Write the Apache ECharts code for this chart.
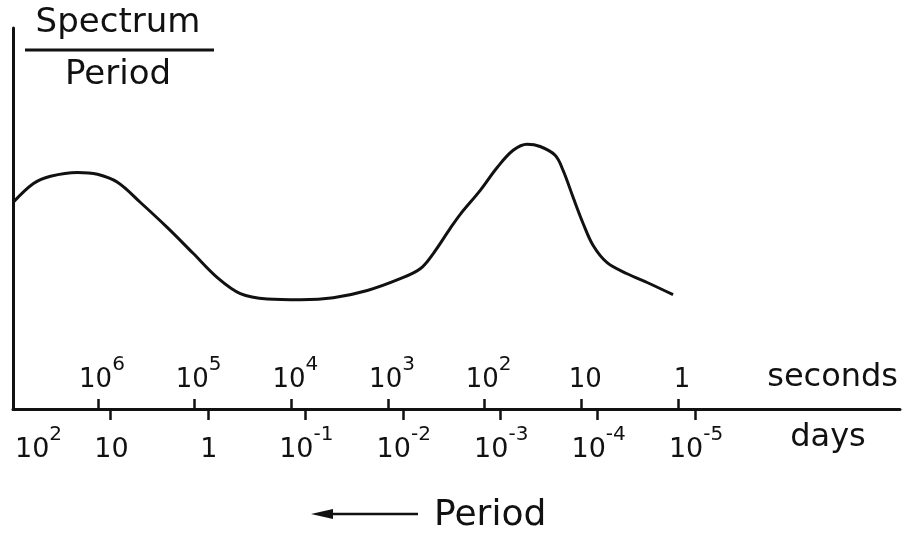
<!DOCTYPE html>
<html>
<head>
<meta charset="utf-8">
<script src="https://cdn.jsdelivr.net/npm/echarts@6/dist/echarts.min.js"></script>
<style>
  html, body { margin: 0; padding: 0; background: #fff; }
  #chart { width: 902px; height: 534px; }
</style>
</head>
<body>
<div id="chart"></div>
<script>
// x = log10(period in days), y = spectrum / period (arbitrary units)
const periodLogDays = [2.0, 1.79, 1.615, 1.338, 1.133, 0.928, 0.692, 0.415, 0.149, -0.097, -0.333, -0.61, -0.949, -1.287, -1.636, -1.974, -2.179, -2.313, -2.487, -2.59, -2.795, -2.969, -3.133, -3.277, -3.41, -3.564, -3.646, -3.749, -3.851, -3.954, -4.097, -4.303, -4.508, -4.774];
const spectrumPerPeriod = [54.2, 59.2, 61.1, 62.1, 61.6, 59.5, 54.2, 47.6, 40.8, 34.5, 30.3, 28.9, 28.7, 29.2, 31.1, 34.2, 36.8, 40.8, 47.4, 51.1, 57.4, 63.4, 67.9, 69.5, 68.9, 66.6, 62.6, 55.5, 48.7, 42.9, 38.4, 35.5, 33.2, 30.0];

// tick exponents
const dayTickExps = [1, 0, -1, -2, -3, -4, -5];
const dayLabelExps = [2, 1, 0, -1, -2, -3, -4, -5];
const secondExps = [6, 5, 4, 3, 2, 1, 0];

// axis ranges (log10 units)
const dayRange = [-7.103, 2];
const secondRange = [-2.296, 6.879];

const FONT = 'DejaVu Sans';
const INK = '#111';

function powLabel(e) {
  if (e === 0) return '{b|1}';
  if (e === 1) return '{b|10}';
  return '{b|10}{s|' + String(e) + '}';
}

const richDays = {
  b: { fontFamily: FONT, fontSize: 27, lineHeight: 50, color: INK },
  s: { fontFamily: FONT, fontSize: 20, lineHeight: 20, verticalAlign: 'top', color: INK }
};
const richSecs = {
  b: { fontFamily: FONT, fontSize: 26, lineHeight: 50, color: INK },
  s: { fontFamily: FONT, fontSize: 20, lineHeight: 20, verticalAlign: 'top', color: INK }
};

const chart = echarts.init(document.getElementById('chart'), null, { renderer: 'canvas' });
chart.setOption({
  animation: false,
  backgroundColor: '#fff',
  grid: { left: 13, right: 2, top: 28, bottom: 125, containLabel: false, outerBoundsMode: 'none' },
  xAxis: [
    {
      type: 'value', min: dayRange[0], max: dayRange[1], inverse: true,
      position: 'bottom', offset: 0,
      axisLine: { show: true, onZero: false, lineStyle: { color: INK, width: 3 } },
      axisTick: { show: true, customValues: dayTickExps, length: 11, lineStyle: { color: INK, width: 2.5 } },
      axisLabel: {
        show: true, customValues: dayLabelExps, margin: 16, padding: [0, 0, 0, 2],
        alignMinLabel: 'left',
        formatter: (v) => powLabel(Math.round(v)), rich: richDays
      },
      splitLine: { show: false }
    },
    {
      type: 'value', min: secondRange[0], max: secondRange[1], inverse: true,
      position: 'bottom', offset: 0,
      axisLine: { show: false, onZero: false },
      axisTick: { show: true, inside: true, customValues: secondExps, length: 10, lineStyle: { color: INK, width: 2.5 } },
      axisLabel: {
        show: true, inside: true, customValues: secondExps, margin: 4, padding: [0, 0, 0, 8],
        formatter: (v) => powLabel(Math.round(v)), rich: richSecs
      },
      splitLine: { show: false }
    }
  ],
  yAxis: {
    type: 'value', min: 0, max: 100,
    axisLine: { show: true, onZero: false, lineStyle: { color: INK, width: 3 } },
    axisTick: { show: false }, axisLabel: { show: false }, splitLine: { show: false }
  },
  series: [{
    type: 'line', xAxisIndex: 0, yAxisIndex: 0,
    data: periodLogDays.map((x, i) => [x, spectrumPerPeriod[i]]),
    showSymbol: false, smooth: 0.35,
    lineStyle: { color: INK, width: 3 }
  }],
  graphic: [
    { type: 'text', x: 118, y: 23, style: { text: 'Spectrum', font: '34px "DejaVu Sans"', fill: INK, align: 'center', verticalAlign: 'middle' } },
    { type: 'line', shape: { x1: 25, y1: 50, x2: 214, y2: 50 }, style: { stroke: INK, lineWidth: 3 } },
    { type: 'text', x: 118, y: 75, style: { text: 'Period', font: '34px "DejaVu Sans"', fill: INK, align: 'center', verticalAlign: 'middle' } },
    { type: 'text', x: 898, y: 378, style: { text: 'seconds', font: '32px "DejaVu Sans"', fill: INK, align: 'right', verticalAlign: 'middle' } },
    { type: 'text', x: 828, y: 438, style: { text: 'days', font: '32px "DejaVu Sans"', fill: INK, align: 'center', verticalAlign: 'middle' } },
    { type: 'line', shape: { x1: 326, y1: 514, x2: 418, y2: 514 }, style: { stroke: INK, lineWidth: 2.5 } },
    { type: 'polygon', shape: { points: [[311, 514], [333, 509], [333, 519]] }, style: { fill: INK } },
    { type: 'text', x: 434, y: 516, style: { text: 'Period', font: '36px "DejaVu Sans"', fill: INK, align: 'left', verticalAlign: 'middle' } }
  ]
});
</script>
</body>
</html>
